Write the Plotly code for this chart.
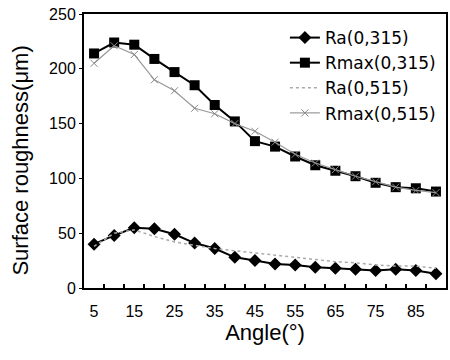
import plotly.graph_objects as go

angles = [5, 10, 15, 20, 25, 30, 35, 40, 45, 50, 55, 60, 65, 70, 75, 80, 85, 90]
ra_0315 = [40, 48, 55, 54, 49, 41, 36, 28, 25, 22, 21, 19, 18, 17, 16, 17, 16, 13]
rmax_0315 = [214, 224, 222, 209, 197, 185, 167, 152, 134, 129, 120, 112, 107, 102, 96, 92, 91, 88]
ra_0515 = [38, 50, 53, 47, 42, 39, 36, 34, 32, 30, 28, 26, 24, 23, 21, 20, 20, 18]
rmax_0515 = [205, 221, 213, 190, 180, 164, 159, 150, 143, 133, 122, 114, 108, 102, 97, 92, 89, 87]
x_tick_labels = [5, 15, 25, 35, 45, 55, 65, 75, 85]
y_ticks = [0, 50, 100, 150, 200, 250]

fig = go.Figure()
fig.add_trace(go.Scatter(x=angles, y=ra_0315, name="Ra(0,315)", mode="lines+markers",
                         line=dict(color="black", width=2),
                         marker=dict(symbol="diamond", size=10, color="black")))
fig.add_trace(go.Scatter(x=angles, y=rmax_0315, name="Rmax(0,315)", mode="lines+markers",
                         line=dict(color="black", width=2),
                         marker=dict(symbol="square", size=10, color="black")))
fig.add_trace(go.Scatter(x=angles, y=ra_0515, name="Ra(0,515)", mode="lines",
                         line=dict(color="#aaaaaa", width=1.5, dash="dot")))
fig.add_trace(go.Scatter(x=angles, y=rmax_0515, name="Rmax(0,515)", mode="lines+markers",
                         line=dict(color="#999999", width=1.2),
                         marker=dict(symbol="x-thin-open", size=7, color="#888888",
                                     line=dict(color="#888888", width=1))))

font_family = "Liberation Sans, Arial, sans-serif"
fig.update_layout(
    width=450, height=360,
    margin=dict(l=84, r=2, t=14, b=72),
    paper_bgcolor="white", plot_bgcolor="white",
    font=dict(family=font_family, color="black", size=16),
    showlegend=True,
    legend=dict(x=0.555, y=0.978, xanchor="left", yanchor="top",
                bgcolor="rgba(0,0,0,0)", font=dict(size=17, family="DejaVu Sans"),
                tracegroupgap=0),
    xaxis=dict(range=[2.5, 92.5], tickvals=x_tick_labels, ticktext=[str(v) for v in x_tick_labels],
               ticks="", showgrid=False, zeroline=False,
               showline=True, linecolor="black", linewidth=2, mirror=True,
               tickfont=dict(size=16), ticklabelstandoff=8,
               minor=dict(tickvals=[a + 2.5 for a in angles[:-1]], ticks="inside",
                          ticklen=4, tickcolor="black", tickwidth=1.5, showgrid=False),
               title=dict(text="Angle(°)", font=dict(size=22), standoff=4)),
    yaxis=dict(range=[0, 250], tickvals=y_ticks, ticks="outside", ticklen=3,
               tickcolor="black", showgrid=False, zeroline=False,
               showline=True, linecolor="black", linewidth=2, mirror=True,
               tickfont=dict(size=16)),
    annotations=[dict(text="Surface roughness(μm)", textangle=-90, showarrow=False,
                      xref="paper", yref="paper", x=-0.176, y=0.466,
                      xanchor="center", yanchor="middle", font=dict(size=22))],
)

fig.write_html("out.html")
